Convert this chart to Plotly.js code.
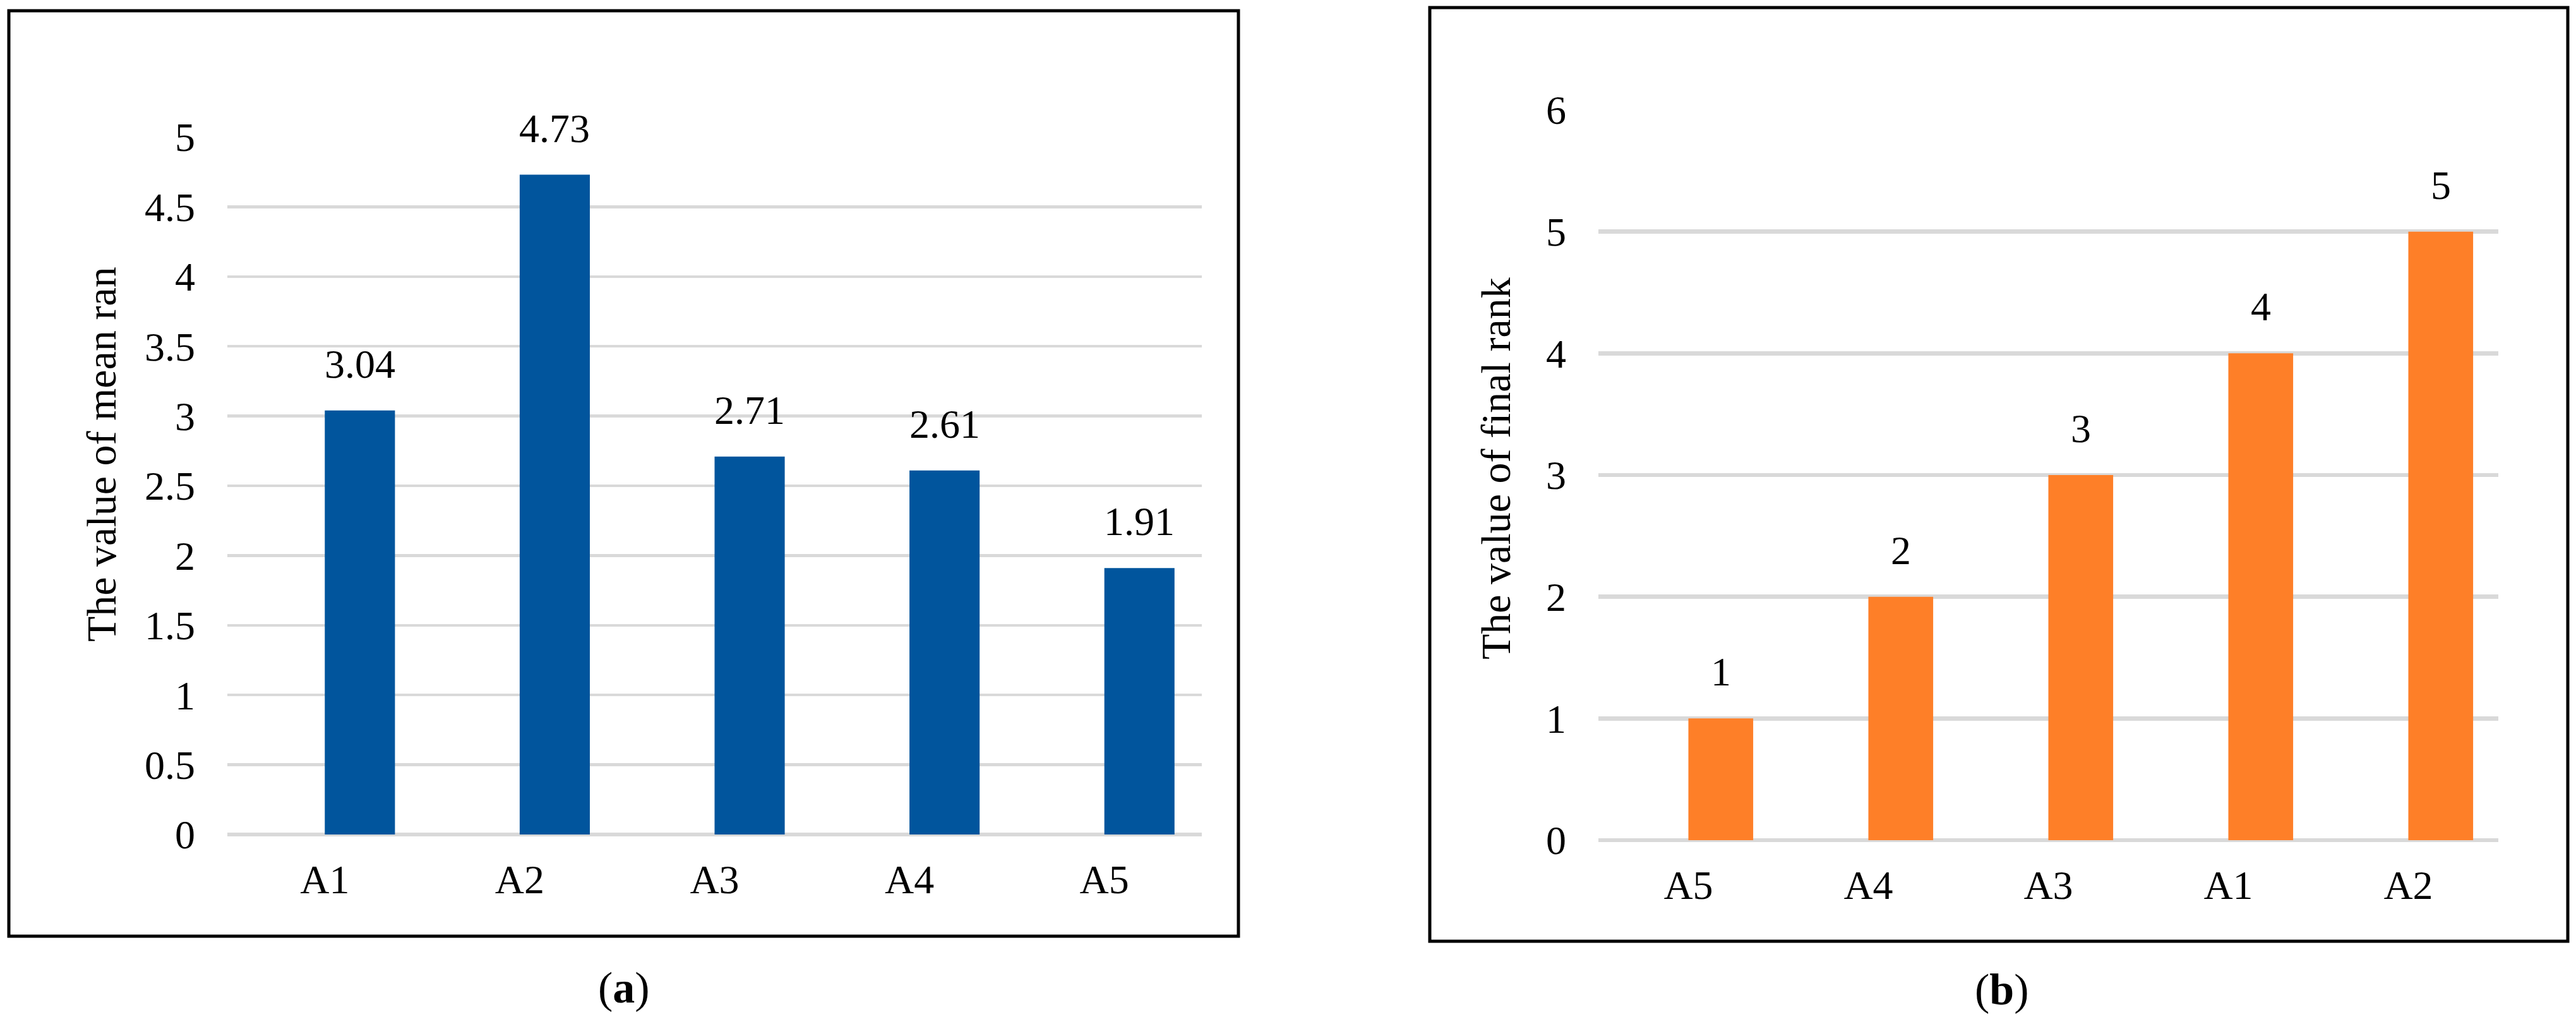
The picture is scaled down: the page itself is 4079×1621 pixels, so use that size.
<!DOCTYPE html>
<html>
<head>
<meta charset="utf-8">
<script src="https://cdn.plot.ly/plotly-3.0.1.min.js"></script>
<style>html,body{margin:0;padding:0;background:#fff;}#chart{width:4079px;height:1621px;}</style>
</head>
<body>
<div id="chart"></div>
<script>
// ---- data ----
var catsA = ['A1', 'A2', 'A3', 'A4', 'A5'];
var meanRank = [3.04, 4.73, 2.71, 2.61, 1.91];
var catsB = ['A5', 'A4', 'A3', 'A1', 'A2'];
var finalRank = [1, 2, 3, 4, 5];
var titleA = 'The value of mean ran';
var titleB = 'The value of final rank';
var captionA = '(<b>a</b>)';
var captionB = '(<b>b</b>)';

// ---- geometry helpers (pixels -> paper) ----
var W = 4079, H = 1621;
function px(x) { return x / W; }
function py(y) { return 1 - y / H; }

var FONT = 'Liberation Serif, Times New Roman, serif';
var FS = 64;
var BLUE = '#01559D';
var ORANGE = '#FE7F28';
var GRID = '#D9D9D9';
var BARW = 0.36;

var traces = [
  {type: 'bar', x: catsA, y: meanRank, xaxis: 'x', yaxis: 'y',
   width: BARW, offset: 0, marker: {color: BLUE}, hoverinfo: 'none'},
  {type: 'bar', x: catsB, y: finalRank, xaxis: 'x2', yaxis: 'y2',
   width: BARW, offset: 0, marker: {color: ORANGE}, hoverinfo: 'none'}
];

var annotations = [];
meanRank.forEach(function (v, i) {
  annotations.push({xref: 'x', yref: 'y', x: i + BARW / 2, y: v, text: v.toFixed(2),
    showarrow: false, xanchor: 'center', yanchor: 'bottom', yshift: 36,
    font: {family: FONT, size: FS, color: '#000'}});
});
finalRank.forEach(function (v, i) {
  annotations.push({xref: 'x2', yref: 'y2', x: i + BARW / 2, y: v, text: String(v),
    showarrow: false, xanchor: 'center', yanchor: 'bottom', yshift: 36,
    font: {family: FONT, size: FS, color: '#000'}});
});
annotations.push({xref: 'paper', yref: 'paper', x: px(160), y: py(719), text: titleA,
  textangle: -90, showarrow: false, xanchor: 'center', yanchor: 'middle',
  font: {family: FONT, size: 66, color: '#000'}});
annotations.push({xref: 'paper', yref: 'paper', x: px(2368), y: py(742), text: titleB,
  textangle: -90, showarrow: false, xanchor: 'center', yanchor: 'middle',
  font: {family: FONT, size: 66, color: '#000'}});
annotations.push({xref: 'paper', yref: 'paper', x: px(988), y: py(1563), text: captionA,
  showarrow: false, xanchor: 'center', yanchor: 'middle',
  font: {family: FONT, size: 70, color: '#000'}});
annotations.push({xref: 'paper', yref: 'paper', x: px(3170), y: py(1566), text: captionB,
  showarrow: false, xanchor: 'center', yanchor: 'middle',
  font: {family: FONT, size: 70, color: '#000'}});

var tickFont = {family: FONT, size: FS, color: '#000'};

var layout = {
  width: W, height: H,
  margin: {l: 0, r: 0, t: 0, b: 0, pad: 0},
  paper_bgcolor: '#fff', plot_bgcolor: '#fff',
  showlegend: false,
  font: {family: FONT, color: '#000'},
  xaxis: {domain: [px(360), px(1903)], anchor: 'y', type: 'category', range: [-0.5, 4.5],
    showgrid: false, zeroline: false, showline: false, ticks: '', tickfont: tickFont,
    ticklabelstandoff: 28, fixedrange: true},
  yaxis: {domain: [py(1321), py(217)], anchor: 'x', range: [0, 5], dtick: 0.5, tick0: 0,
    showgrid: true, gridcolor: GRID, gridwidth: 4.5, zeroline: true, zerolinecolor: GRID,
    zerolinewidth: 6.5, showline: false, ticks: '', tickfont: tickFont,
    ticklabelstandoff: 50, fixedrange: true},
  xaxis2: {domain: [px(2531), px(3956)], anchor: 'y2', type: 'category', range: [-0.5, 4.5],
    showgrid: false, zeroline: false, showline: false, ticks: '', tickfont: tickFont,
    ticklabelstandoff: 28, fixedrange: true},
  yaxis2: {domain: [py(1330), py(174)], anchor: 'x2', range: [0, 6], dtick: 1, tick0: 0,
    showgrid: true, gridcolor: GRID, gridwidth: 6.5, zeroline: true, zerolinecolor: GRID,
    zerolinewidth: 6.5, showline: false, ticks: '', tickfont: tickFont,
    ticklabelstandoff: 50, fixedrange: true},
  shapes: [
    {type: 'rect', xref: 'paper', yref: 'paper', x0: px(14), x1: px(1961), y0: py(1482), y1: py(17),
      line: {color: '#000', width: 5}, fillcolor: 'rgba(0,0,0,0)', layer: 'above'},
    {type: 'rect', xref: 'paper', yref: 'paper', x0: px(2264), x1: px(4066), y0: py(1490), y1: py(12),
      line: {color: '#000', width: 5}, fillcolor: 'rgba(0,0,0,0)', layer: 'above'}
  ],
  annotations: annotations
};

Plotly.newPlot('chart', traces, layout, {staticPlot: true, displayModeBar: false});
</script>
</body>
</html>
